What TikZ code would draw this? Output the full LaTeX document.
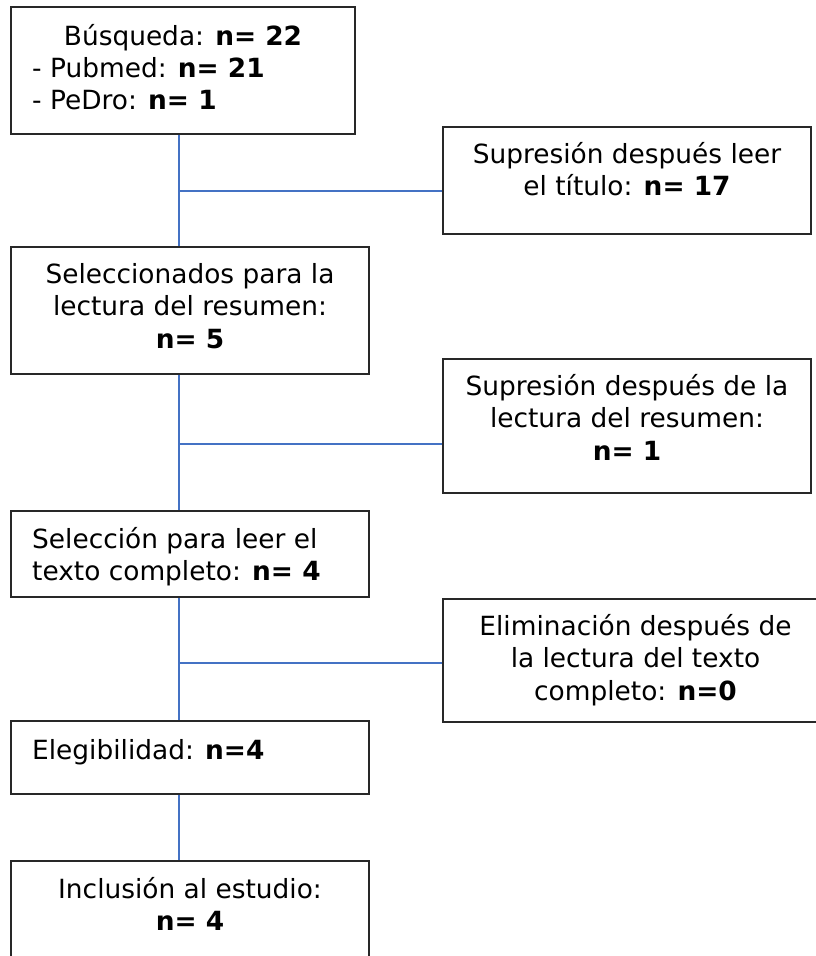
\documentclass[tikz,border=0pt]{standalone}
\usepackage{fontspec}
\setmainfont{DejaVu Sans}
\usetikzlibrary{calc}
\definecolor{connc}{RGB}{68,114,196}
\definecolor{boxline}{RGB}{40,40,40}
\tikzset{
  box/.style={draw=boxline, line width=1.3pt, rectangle, inner sep=0pt},
  txt/.style={inner sep=0pt, font=\fontsize{26.4}{32.7}\selectfont},
  connector/.style={draw=connc, line width=1.4pt},
}
\newcommand{\fl}{\rule{0pt}{30pt}}
\begin{document}
\begin{tikzpicture}[x=1pt,y=-1pt]
\useasboundingbox (0,0) rectangle (816,956);
\clip (0,0) rectangle (816,956);
% spine and junctions
\coordinate (sp) at (179,0);
\coordinate (j1) at (179,191);
\coordinate (j2) at (179,444);
\coordinate (j3) at (179,663);
% boxes
\node[box, minimum width=344pt, minimum height=127pt] (b1) at (183,70.5) {};
\node[box, minimum width=368pt, minimum height=107pt] (b2) at (627,180.5) {};
\node[box, minimum width=358pt, minimum height=127pt] (b3) at (190,310.5) {};
\node[box, minimum width=368pt, minimum height=134pt] (b4) at (627,426) {};
\node[box, minimum width=358pt, minimum height=86pt] (b5) at (190,554) {};
\node[box, minimum width=385pt, minimum height=123pt] (b6) at (635.5,660.5) {};
\node[box, minimum width=358pt, minimum height=73pt] (b7) at (190,757.5) {};
\node[box, minimum width=358pt, minimum height=109pt] (b8) at (190,915.5) {};
% connectors
\draw[connector] (b1.south -| sp) -- (b3.north -| sp);
\draw[connector] (b3.south -| sp) -- (b5.north -| sp);
\draw[connector] (b5.south -| sp) -- (b7.north -| sp);
\draw[connector] (b7.south -| sp) -- (b8.north -| sp);
\draw[connector] (j1) -- (j1 -| b2.west);
\draw[connector] (j2) -- (j2 -| b4.west);
\draw[connector] (j3) -- (j3 -| b6.west);
% texts
\node[txt, anchor=north] (t1a) at (183,15) {\fl Búsqueda: \textbf{n= 22}};
\node[txt, anchor=north west, align=left] (t1b) at (32,47) {\fl - Pubmed: \textbf{n= 21}\\- PeDro: \textbf{n= 1}};
\node[txt, anchor=north, align=center] (t2) at (627,133) {\fl Supresión después leer\\el título: \textbf{n= 17}};
\node[txt, anchor=north, align=center] (t3) at (190,253) {\fl Seleccionados para la\\lectura del resumen:\\\textbf{n= 5}};
\node[txt, anchor=north, align=center] (t4) at (627,365) {\fl Supresión después de la\\lectura del resumen:\\\textbf{n= 1}};
\node[txt, anchor=north west, align=left] (t5) at (32,518) {\fl Selección para leer el\\texto completo: \textbf{n= 4}};
\node[txt, anchor=north, align=center] (t6) at (635.5,605) {\fl Eliminación después de\\la lectura del texto\\completo: \textbf{n=0}};
\node[txt, anchor=north west, align=left] (t7) at (32,729) {\fl Elegibilidad: \textbf{n=4}};
\node[txt, anchor=north, align=center] (t8) at (190,868) {\fl Inclusión al estudio:\\\textbf{n= 4}};
\end{tikzpicture}
\end{document}
